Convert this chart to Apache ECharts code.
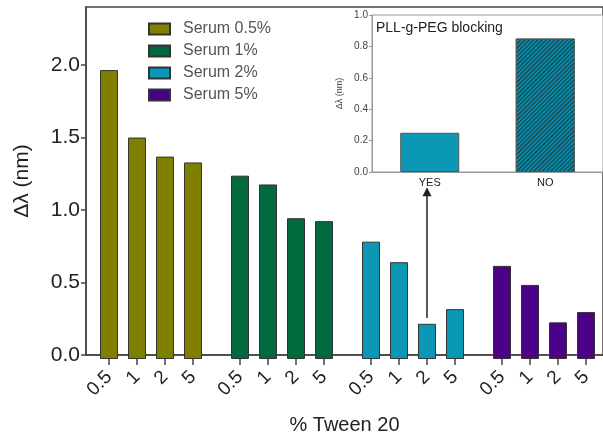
<!DOCTYPE html>
<html><head><meta charset="utf-8">
<script src="https://cdn.jsdelivr.net/npm/echarts@6/dist/echarts.min.js"></script>
<style>html,body{margin:0;padding:0;background:#fff}#c{width:603px;height:440px}</style>
</head><body><div id="c"></div>
<script>
// ---- data ----
const tweenLabels = ['0.5', '1', '2', '5'];
const serumNames = ['Serum 0.5%', 'Serum 1%', 'Serum 2%', 'Serum 5%'];
const serum05 = [1.97, 1.51, 1.38, 1.34];
const serum1 = [1.25, 1.19, 0.96, 0.94];
const serum2 = [0.80, 0.66, 0.24, 0.34];
const serum5 = [0.635, 0.505, 0.25, 0.32];
const insetCategories = ['YES', 'NO'];
const insetValues = [0.25, 0.85];
const insetTitle = 'PLL-g-PEG blocking';
const yTitle = 'Δλ (nm)';
const xTitle = '% Tween 20';
const arrowFrom = 0.28, arrowTo = 1.14;

// ---- style ----
const serumColors = ['#7f7f00', '#00693e', '#0a98b4', '#4b0088'];
const groups = [serum05, serum1, serum2, serum5];
const font = 'Liberation Sans, Arial, sans-serif';
const gTop = 7, gBottom = 81, gLeft0 = 95, gStep = 131, gWidth = 112;

const grid = [{ left: 86, top: gTop, right: -2, bottom: gBottom, show: true, borderColor: '#444', borderWidth: 1.5 }];
const xAxis = [{
  gridIndex: 0, type: 'value', min: 0, max: 1,
  axisLine: { show: true, lineStyle: { color: '#444', width: 1.5 } },
  axisTick: { show: false }, axisLabel: { show: false }, splitLine: { show: false },
  name: xTitle, nameLocation: 'middle', nameGap: 60,
  nameTextStyle: { fontSize: 20, color: '#222', fontFamily: font }
}];
const yAxis = [{
  gridIndex: 0, type: 'value', min: 0, max: 2.4, interval: 0.5,
  axisLine: { show: true, lineStyle: { color: '#444', width: 1.5 } },
  axisTick: { show: true, length: 5, lineStyle: { color: '#444', width: 1.5 } },
  axisLabel: { fontSize: 21, color: '#222', margin: 6, fontFamily: font, showMaxLabel: false,
    formatter: v => (v > 2.2 ? '' : v.toFixed(1)) },
  splitLine: { show: false },
  name: yTitle, nameLocation: 'middle', nameGap: 53, nameRotate: 90,
  nameTextStyle: { fontSize: 21, color: '#222', fontFamily: font }
}];
const series = [];
groups.forEach((vals, g) => {
  grid.push({ left: gLeft0 + g * gStep, width: gWidth, top: gTop, bottom: gBottom });
  xAxis.push({
    gridIndex: g + 1, type: 'category', data: tweenLabels,
    axisLine: { show: false },
    axisTick: { show: true, alignWithLabel: true, length: 6, lineStyle: { color: '#444', width: 1.5 } },
    axisLabel: { interval: 0, rotate: 45, fontSize: 19, color: '#222', margin: 15, fontFamily: font, hideOverlap: false }
  });
  yAxis.push({ gridIndex: g + 1, type: 'value', min: 0, max: 2.4, show: false });
  const s = {
    name: serumNames[g], type: 'bar', xAxisIndex: g + 1, yAxisIndex: g + 1,
    data: vals, barWidth: 18,
    itemStyle: { color: serumColors[g], borderColor: '#333', borderWidth: 1 }
  };
  if (g === 2) {
    s.markLine = {
      silent: true, symbol: ['none', 'triangle'], symbolSize: 9,
      label: { show: false },
      lineStyle: { color: '#222', width: 1.5, type: 'solid' },
      data: [[{ coord: [2, arrowFrom] }, { coord: [2, arrowTo] }]]
    };
  }
  series.push(s);
});

// inset
grid.push({ left: 372, top: 15, right: -2, height: 157, show: true, backgroundColor: '#fff', borderColor: '#999', borderWidth: 1 });
xAxis.push({
  gridIndex: 5, type: 'category', data: insetCategories,
  axisLine: { show: true, lineStyle: { color: '#999', width: 1 } },
  axisTick: { show: false },
  axisLabel: { fontSize: 11, color: '#222', margin: 5, fontFamily: font }
});
yAxis.push({
  gridIndex: 5, type: 'value', min: 0, max: 1, interval: 0.2,
  axisLine: { show: true, lineStyle: { color: '#999', width: 1 } },
  axisTick: { show: true, length: 3, lineStyle: { color: '#999' } },
  axisLabel: { fontSize: 10, color: '#444', margin: 4, fontFamily: font, formatter: v => v.toFixed(1) },
  splitLine: { show: false },
  name: yTitle, nameLocation: 'middle', nameGap: 28, nameRotate: 90,
  nameTextStyle: { fontSize: 9, color: '#444', fontFamily: font }
});
series.push({
  type: 'bar', xAxisIndex: 5, yAxisIndex: 5, barWidth: 59,
  data: insetValues.map((v, i) => i === 1 ? {
    value: v,
    itemStyle: { color: '#0b8aa5', decal: { symbol: 'rect', color: 'rgba(20,45,55,0.85)', dashArrayX: [1, 0], dashArrayY: [1, 2], rotation: -Math.PI / 4 } }
  } : v),
  itemStyle: { color: '#0a98b4', borderColor: '#555', borderWidth: 1 }
});

const chart = echarts.init(document.getElementById('c'), null, { renderer: 'canvas' });
chart.setOption({
  animation: false,
  backgroundColor: '#fff',
  textStyle: { fontFamily: font },
  title: { text: insetTitle, left: 376, top: 21, padding: 0, textStyle: { fontSize: 14, fontWeight: 'normal', color: '#222', fontFamily: font } },
  legend: {
    data: serumNames, orient: 'vertical', left: 148, top: 21, padding: 0,
    itemWidth: 21, itemHeight: 11, itemGap: 6, icon: 'rect',
    textStyle: { fontSize: 16, color: '#555', fontFamily: font, padding: [0, 0, 0, 8] }
  },
  grid, xAxis, yAxis, series
});
</script></body></html>
